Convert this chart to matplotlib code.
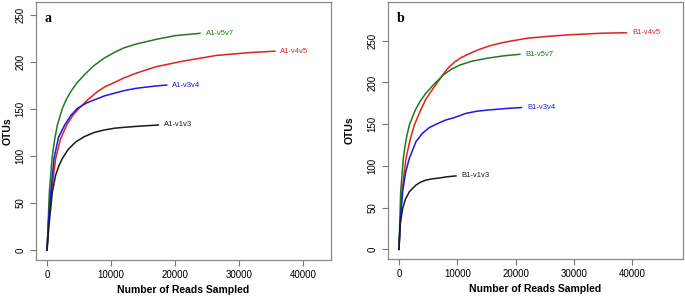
import matplotlib
matplotlib.use("Agg")
import matplotlib.pyplot as plt

plt.rcParams['font.family'] = ['Liberation Sans', 'DejaVu Sans']

# panel a: rarefaction curves (reads sampled, OTUs)
a_v5v7_x = [0, 156, 365, 780, 1200, 1615, 2400, 3000, 3700, 4700, 5780, 7300, 8900, 10470, 12000, 13900, 17000, 20000, 23900]
a_v5v7_y = [0, 26.6, 62, 97.5, 118, 133, 150.7, 160, 168.4, 178, 186, 196, 204, 210, 215, 219, 224, 228, 230.5]
a_v4v5_x = [0, 250, 680, 1350, 2100, 3070, 4000, 5000, 6400, 7870, 9000, 10470, 12000, 13900, 17030, 21300, 26500, 31700, 35600]
a_v4v5_y = [0, 30, 62, 97.5, 118, 133, 143, 150.7, 160, 168.4, 173.5, 178, 183, 188, 195, 201, 207, 210, 211.5]
a_v3v4_x = [0, 250, 500, 1090, 1800, 2760, 3700, 4740, 6200, 7870, 9000, 10470, 12000, 13900, 17030, 18700]
a_v3v4_y = [0, 33, 55, 97.5, 120, 133, 143, 150.7, 156.5, 161, 164, 166.7, 169.5, 172, 174.5, 175.5]
a_v1v3_x = [0, 310, 830, 1350, 1850, 2400, 3300, 4480, 5800, 7340, 8800, 10470, 12000, 13900, 17400]
a_v1v3_y = [0, 26.6, 62, 79.8, 89.5, 97.5, 107, 115, 120.5, 125, 127.5, 129.5, 130.5, 131.5, 133]

# panel b
b_v4v5_x = [0, 510, 1200, 1900, 2630, 3600, 4600, 5880, 7600, 8500, 9540, 10460, 12000, 13890, 15800, 17880, 21900, 25000, 28750, 34460, 39000]
b_v4v5_y = [0, 69, 109, 131, 149, 165, 180, 193, 210, 218, 224.5, 229, 234.5, 240, 244.5, 248, 253, 255, 257, 259, 259.7]
b_v5v7_x = [0, 290, 740, 1200, 1770, 2800, 3600, 4600, 5880, 7600, 9000, 10460, 12500, 15030, 18000, 20740]
b_v5v7_y = [0, 69, 109, 131, 149, 167, 177, 187, 197, 209, 216, 221, 225.5, 229, 232, 233.8]
b_v3v4_x = [0, 300, 630, 1100, 1770, 2910, 4000, 5200, 6690, 8000, 9540, 11490, 13300, 15260, 18690, 21000]
b_v3v4_y = [0, 42, 69, 91, 109, 129, 139, 146, 151, 155, 158, 163, 165.5, 167, 169, 170]
b_v1v3_x = [0, 170, 630, 1100, 1770, 2910, 3700, 4630, 5700, 6910, 8300, 9770]
b_v1v3_y = [0, 29, 49, 60, 69, 77, 80.5, 83, 84.5, 85.5, 87, 88]

colors = {'v5v7': '#1e7b1e', 'v4v5': '#e3201b', 'v3v4': '#1a1ae6', 'v1v3': '#1a1a1a'}

fig = plt.figure(figsize=(6.85, 3.0), dpi=100)
ax1 = fig.add_axes([0.0526, 0.1333, 0.4306, 0.86])
ax2 = fig.add_axes([0.5664, 0.1367, 0.4306, 0.8566])

panels = [
    (ax1, 'a', 'A1', [('v5v7', a_v5v7_x, a_v5v7_y), ('v4v5', a_v4v5_x, a_v4v5_y),
                      ('v3v4', a_v3v4_x, a_v3v4_y), ('v1v3', a_v1v3_x, a_v1v3_y)],
     (-1720, 44375), (-10.6, 263.8), -0.08),
    (ax2, 'b', 'B1', [('v4v5', b_v4v5_x, b_v4v5_y), ('v5v7', b_v5v7_x, b_v5v7_y),
                      ('v3v4', b_v3v4_x, b_v3v4_y), ('v1v3', b_v1v3_x, b_v1v3_y)],
     (-1886, 48700), (-11.6, 296.5), -0.112),
]

for ax, letter, prefix, curves, xl, yl, ylab_x in panels:
    for name, xs, ys in curves:
        c = colors[name]
        ax.plot(xs, ys, color=c, lw=1.1, solid_joinstyle='round')
        ax.annotate(prefix + '-' + name, (xs[-1], ys[-1]), xytext=(4, 0),
                    textcoords='offset points', ha='left', va='center',
                    fontsize=5.5, color=c)
    ax.set_xlim(*xl)
    ax.set_ylim(*yl)
    ax.set_xticks([0, 10000, 20000, 30000, 40000])
    ax.set_yticks([0, 50, 100, 150, 200, 250])
    ax.tick_params(axis='both', labelsize=7, length=4, color='#777777', width=0.8)
    ax.tick_params(axis='y', labelrotation=90)
    for lab in ax.get_yticklabels():
        lab.set_va('center')
    for sp in ax.spines.values():
        sp.set_color('#888888')
        sp.set_linewidth(0.9)
    ax.set_xlabel('Number of Reads Sampled', fontsize=7.5, fontweight='bold', labelpad=3)
    ax.set_ylabel('OTUs', fontsize=7.5, fontweight='bold')
    ax.yaxis.set_label_coords(ylab_x, 0.5)
    ax.text(0.03, 0.96, letter, transform=ax.transAxes, fontsize=10, fontweight='bold',
            family='Liberation Serif', va='top', ha='left')

fig.savefig('out.png', dpi=100)
